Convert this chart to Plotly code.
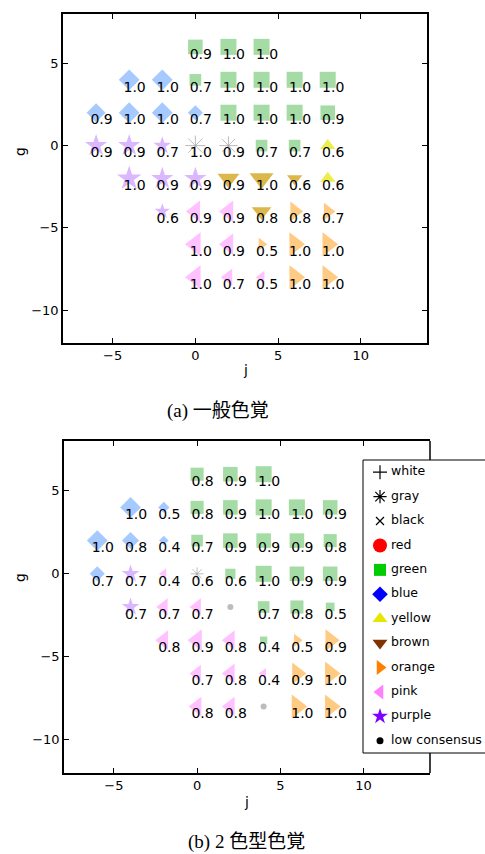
import plotly.graph_objects as go

# ---------------- data ----------------
J_COLS = [-6, -4, -2, 0, 2, 4, 6, 8]
G_ROWS = [6, 4, 2, 0, -2, -4, -6, -8]
X_TICKS = [-5, 0, 5, 10]
Y_TICKS = [-10, -5, 0, 5]

_ = None
# (a) normal colour vision : colour term per grid cell
A_COLOUR = [
    [_, _, _, "green", "green", "green", _, _],
    [_, "blue", "blue", "green", "green", "green", "green", "green"],
    ["blue", "blue", "blue", "blue", "green", "green", "green", "green"],
    ["purple", "purple", "purple", "gray", "gray", "green", "green", "yellow"],
    [_, "purple", "purple", "purple", "brown", "brown", "brown", "yellow"],
    [_, _, "purple", "pink", "pink", "brown", "orange", "orange"],
    [_, _, _, "pink", "pink", "orange", "orange", "orange"],
    [_, _, _, "pink", "pink", "pink", "orange", "orange"],
]
A_CONSENSUS = [
    [_, _, _, 0.9, 1.0, 1.0, _, _],
    [_, 1.0, 1.0, 0.7, 1.0, 1.0, 1.0, 1.0],
    [0.9, 1.0, 1.0, 0.7, 1.0, 1.0, 1.0, 0.9],
    [0.9, 0.9, 0.7, 1.0, 0.9, 0.7, 0.7, 0.6],
    [_, 1.0, 0.9, 0.9, 0.9, 1.0, 0.6, 0.6],
    [_, _, 0.6, 0.9, 0.9, 0.8, 0.8, 0.7],
    [_, _, _, 1.0, 0.9, 0.5, 1.0, 1.0],
    [_, _, _, 1.0, 0.7, 0.5, 1.0, 1.0],
]
# (b) dichromats
B_COLOUR = [
    [_, _, _, "green", "green", "green", _, _],
    [_, "blue", "blue", "green", "green", "green", "green", "green"],
    ["blue", "blue", "blue", "green", "green", "green", "green", "green"],
    ["blue", "purple", "pink", "gray", "green", "green", "green", "green"],
    [_, "purple", "pink", "pink", "low", "green", "green", "green"],
    [_, _, "pink", "pink", "pink", "green", "orange", "orange"],
    [_, _, _, "pink", "pink", "pink", "orange", "orange"],
    [_, _, _, "pink", "pink", "low", "orange", "orange"],
]
B_CONSENSUS = [
    [_, _, _, 0.8, 0.9, 1.0, _, _],
    [_, 1.0, 0.5, 0.8, 0.9, 1.0, 1.0, 0.9],
    [1.0, 0.8, 0.4, 0.7, 0.9, 0.9, 0.9, 0.8],
    [0.7, 0.7, 0.4, 0.6, 0.6, 1.0, 0.9, 0.9],
    [_, 0.7, 0.7, 0.7, _, 0.7, 0.8, 0.5],
    [_, _, 0.8, 0.9, 0.8, 0.4, 0.5, 0.9],
    [_, _, _, 0.7, 0.8, 0.4, 0.9, 1.0],
    [_, _, _, 0.8, 0.8, _, 1.0, 1.0],
]

LEGEND_NAMES = ["white", "gray", "black", "red", "green", "blue", "yellow",
                "brown", "orange", "pink", "purple", "low consensus"]

# ---------------- styles ----------------
SYMBOL = {"white": "cross-thin-open", "gray": "asterisk-open", "black": "x-thin-open",
          "red": "circle", "green": "square", "blue": "diamond", "yellow": "triangle-up",
          "brown": "triangle-down", "orange": "triangle-right", "pink": "triangle-left",
          "purple": "star", "low": "circle", "low consensus": "circle"}
SIZE_FACTOR = {"green": 1.0, "blue": 1.0, "yellow": 1.3, "brown": 1.3, "orange": 1.3,
               "pink": 1.3, "purple": 1.15, "gray": 1.05, "red": 1.0}
PALE = {"green": "#7FCC7F", "blue": "#80B3FF", "purple": "#CC99FF", "gray": "#A0A0A0",
        "yellow": "#E6E600", "brown": "#CC9900", "pink": "#FFA6FF", "orange": "#FFB34D",
        "low": "#A0A0A0", "red": "#FF8080"}
LEG_COLOR = {"white": "black", "gray": "black", "black": "black", "red": "#FF0000",
             "green": "#00CC00", "blue": "#0000FF", "yellow": "#E6E600", "brown": "#7F3300",
             "orange": "#FF8000", "pink": "#FF80FF", "purple": "#8000FF",
             "low consensus": "black"}
LEG_SIZE = {"white": 10, "gray": 11, "black": 8, "red": 14, "green": 12, "blue": 12,
            "yellow": 13, "brown": 13, "orange": 13, "pink": 13, "purple": 12,
            "low consensus": 7}

W, H = 485, 854
FONT = "DejaVu Sans"
TXT_DX, TXT_DY = 0.33, -0.5


def px_x(p):
    return p / W


def px_y(p):
    return 1 - p / H


fig = go.Figure()


def add_panel(colour, consensus, xa, ya):
    cats = []
    for row in colour:
        for c in row:
            if c is not None and c not in cats:
                cats.append(c)
    for cat in cats:
        xs, ys, ss = [], [], []
        for r, g in enumerate(G_ROWS):
            for k, j in enumerate(J_COLS):
                if colour[r][k] == cat:
                    xs.append(j)
                    ys.append(g)
                    v = consensus[r][k]
                    if v is None:
                        ss.append(6)
                    else:
                        ss.append((1.5 + 14.5 * v) * SIZE_FACTOR.get(cat, 1.0))
        open_sym = SYMBOL[cat].endswith("open")
        fig.add_trace(go.Scatter(
            x=xs, y=ys, mode="markers", xaxis=xa, yaxis=ya, showlegend=False,
            hoverinfo="skip",
            marker=dict(symbol=SYMBOL[cat], size=ss, color=PALE[cat],
                        line=dict(width=1 if open_sym else 0, color=PALE[cat]))))
    tx, ty, tt = [], [], []
    for r, g in enumerate(G_ROWS):
        for k, j in enumerate(J_COLS):
            v = consensus[r][k]
            if v is not None:
                tx.append(j + TXT_DX)
                ty.append(g + TXT_DY)
                tt.append(f"{v:.1f}")
    fig.add_trace(go.Scatter(
        x=tx, y=ty, text=tt, mode="text", xaxis=xa, yaxis=ya, showlegend=False,
        hoverinfo="skip", textfont=dict(family=FONT, size=14, color="black")))


add_panel(A_COLOUR, A_CONSENSUS, "x", "y")
add_panel(B_COLOUR, B_CONSENSUS, "x2", "y2")

# ---------------- legend (drawn in its own axes) ----------------
LEG_L, LEG_T, LEG_B = 363, 460, 753
for i, name in enumerate(LEGEND_NAMES):
    sym = SYMBOL[name]
    open_sym = sym.endswith("open")
    fig.add_trace(go.Scatter(
        x=[17], y=[i], mode="markers", xaxis="x3", yaxis="y3", showlegend=False,
        hoverinfo="skip",
        marker=dict(symbol=sym, size=LEG_SIZE[name], color=LEG_COLOR[name],
                    line=dict(width=1.2 if open_sym else 0, color=LEG_COLOR[name]))))
fig.add_trace(go.Scatter(
    x=[28] * len(LEGEND_NAMES), y=list(range(len(LEGEND_NAMES))), text=LEGEND_NAMES,
    mode="text", textposition="middle right", xaxis="x3", yaxis="y3", showlegend=False,
    hoverinfo="skip", textfont=dict(family=FONT, size=12.5, color="black")))

axis_common = dict(showgrid=False, zeroline=False, showline=True, linecolor="black",
                   linewidth=1.5, ticks="inside", ticklen=5, tickcolor="black",
                   tickwidth=1, tickfont=dict(family=FONT, size=13, color="black"))

fig.update_layout(
    width=W, height=H, autosize=False,
    margin=dict(l=0, r=0, t=0, b=0, pad=0),
    paper_bgcolor="white", plot_bgcolor="rgba(0,0,0,0)",
    xaxis=dict(domain=[px_x(63), px_x(427)], range=[-8, 14], tickvals=X_TICKS,
               anchor="y", mirror="ticks", **axis_common),
    yaxis=dict(domain=[px_y(343), px_y(14)], range=[-12, 8], tickvals=Y_TICKS,
               anchor="x", mirror="ticks", **axis_common),
    xaxis2=dict(domain=[px_x(64), px_x(430)], range=[-8, 14], tickvals=X_TICKS,
                anchor="y2", mirror="ticks", **axis_common),
    yaxis2=dict(domain=[px_y(773), px_y(441)], range=[-12, 8], tickvals=Y_TICKS,
                anchor="x2", mirror=False, **axis_common),
    xaxis3=dict(domain=[px_x(LEG_L), 1], range=[0, W - LEG_L], visible=False,
                anchor="y3", fixedrange=True),
    yaxis3=dict(domain=[px_y(LEG_B), px_y(LEG_T)],
                range=[len(LEGEND_NAMES) - 0.5, -0.5], visible=False,
                anchor="x3", fixedrange=True),
    showlegend=False,
)

# right border of panel (b), interrupted by the legend box, and the legend box
fig.add_shape(type="line", xref="x2 domain", yref="paper", x0=1, x1=1,
              y0=px_y(773), y1=px_y(LEG_B), line=dict(color="black", width=1.5))
fig.add_shape(type="line", xref="x2 domain", yref="paper", x0=1, x1=1,
              y0=px_y(LEG_T), y1=px_y(441), line=dict(color="black", width=1.5))
fig.add_shape(type="rect", xref="paper", yref="paper", x0=px_x(LEG_L), x1=1.02,
              y0=px_y(LEG_B), y1=px_y(LEG_T), line=dict(color="black", width=1),
              fillcolor="white", layer="below")

# axis titles and captions
ann_font = dict(family=FONT, size=14, color="black")
cap_font = dict(family="Liberation Serif, Noto Sans CJK JP", size=19, color="black")
for txt, x, y, ang in [("j", 245, 370, 0), ("g", 20, 152, -90),
                       ("j", 247, 802, 0), ("g", 20, 578, -90)]:
    fig.add_annotation(text=txt, x=px_x(x), y=px_y(y), xref="paper", yref="paper",
                       showarrow=False, textangle=ang, font=ann_font,
                       xanchor="center", yanchor="middle")
fig.add_annotation(text="(a) 一般色覚", x=px_x(218), y=px_y(411), xref="paper",
                   yref="paper", showarrow=False, font=cap_font,
                   xanchor="center", yanchor="middle")
fig.add_annotation(text="(b) 2 色型色覚", x=px_x(247), y=px_y(842), xref="paper",
                   yref="paper", showarrow=False, font=cap_font,
                   xanchor="center", yanchor="middle")

fig.write_html(
    "out.html",
    config={"displayModeBar": False},
    post_script="document.body.style.margin='0';document.body.style.overflow='hidden';",
)
